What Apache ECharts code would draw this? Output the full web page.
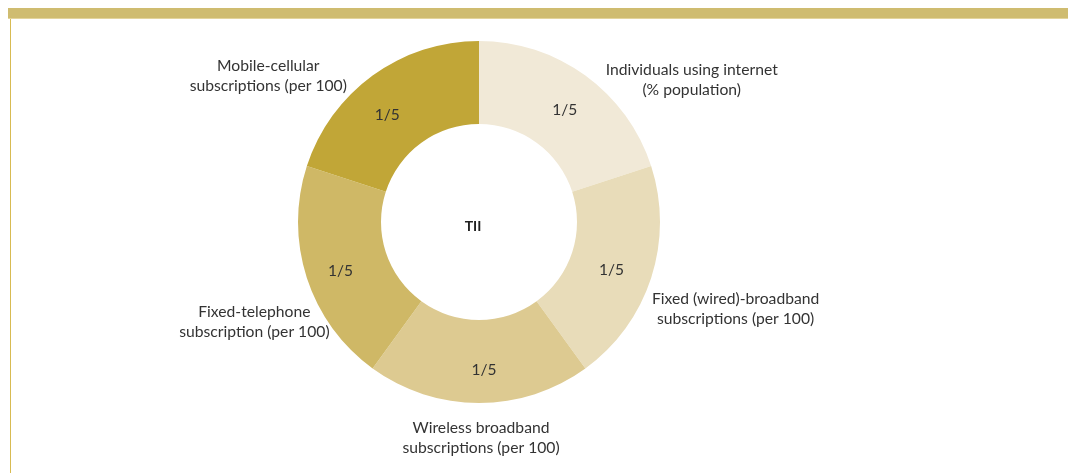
<!DOCTYPE html>
<html><head><meta charset="utf-8">
<script src="https://cdn.jsdelivr.net/npm/echarts@6/dist/echarts.min.js"></script>
<style>html,body{margin:0;padding:0;background:#fff}#c{width:1068px;height:473px}</style>
</head><body><div id="c"></div>
<script>
var categories = [
  'Individuals using internet\n(% population)',
  'Fixed (wired)-broadband\nsubscriptions (per 100)',
  'Wireless broadband\nsubscriptions (per 100)',
  'Fixed-telephone\nsubscription (per 100)',
  'Mobile-cellular\nsubscriptions (per 100)'
];
var values = [1, 1, 1, 1, 1];
var shareLabels = ['1/5', '1/5', '1/5', '1/5', '1/5'];
var centerLabel = 'TII';

var colors = ['#f1e9d7', '#e8dcb9', '#ddca91', '#cfb866', '#c1a637'];
var nameOffsets = [[64, 63], [16, 9], [2, -37], [16, 22], [-62, 59]];
var shareOffsets = [[2, 3], [-3, 4], [5, 5], [-3, 5], [-8, 8]];
var FONT = 'Lato';

var data = categories.map(function (c, i) {
  return { name: c, value: values[i], itemStyle: { color: colors[i] } };
});
var ghost = categories.map(function (c, i) {
  return { name: c, value: values[i], itemStyle: { color: 'rgba(0,0,0,0)' } };
});

var chart = echarts.init(document.getElementById('c'));
chart.setOption({
  animation: false,
  graphic: [
    { type: 'rect', shape: { x: 8, y: 8, width: 1060, height: 11 }, style: { fill: '#cfbc70' } },
    { type: 'rect', shape: { x: 8, y: 18, width: 1060, height: 1 }, style: { fill: '#e3d49c' } },
    { type: 'rect', shape: { x: 10, y: 19, width: 1, height: 454 }, style: { fill: '#d8bb52' } },
    { type: 'text', x: 473, y: 226, style: { text: centerLabel, font: 'bold 14px ' + FONT, fill: '#222', textAlign: 'center', textVerticalAlign: 'middle' } }
  ],
  series: [
    {
      type: 'pie',
      center: [479, 222],
      radius: [98, 181],
      startAngle: 90,
      clockwise: true,
      silent: true,
      label: {
        show: true, position: 'inside',
        formatter: function (p) { return shareLabels[p.dataIndex]; },
        fontFamily: FONT, fontSize: 15.5, color: '#333'
      },
      labelLine: { show: false },
      labelLayout: function (p) {
        var o = shareOffsets[p.dataIndex];
        return { dx: o[0], dy: o[1] };
      },
      data: data
    },
    {
      type: 'pie',
      center: [479, 222],
      radius: [225, 275],
      startAngle: 90,
      clockwise: true,
      silent: true,
      z: 1,
      label: {
        show: true, position: 'inside',
        formatter: '{b}',
        fontFamily: FONT, fontSize: 15.7, lineHeight: 20, color: '#333', align: 'center'
      },
      labelLine: { show: false },
      labelLayout: function (p) {
        var o = nameOffsets[p.dataIndex];
        return { dx: o[0], dy: o[1] };
      },
      data: ghost
    }
  ]
});
</script></body></html>
